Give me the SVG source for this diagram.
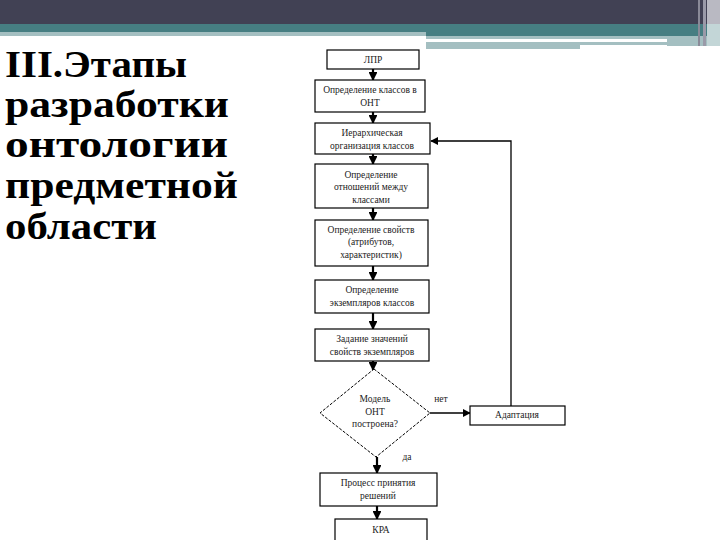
<svg xmlns="http://www.w3.org/2000/svg" width="720" height="540" viewBox="0 0 720 540">
<defs>
<marker id="ah" viewBox="0 0 10 10" refX="9" refY="5" markerWidth="4" markerHeight="4" markerUnits="strokeWidth" orient="auto">
<path d="M0,0 L10,5 L0,10 z" fill="#000"/>
</marker>
<marker id="ah2" viewBox="0 0 10 10" refX="9" refY="5" markerWidth="6" markerHeight="6" markerUnits="strokeWidth" orient="auto">
<path d="M0,0 L10,5 L0,10 z" fill="#000"/>
</marker>
<style>
.box{fill:#fff;stroke:#000;stroke-width:1.2}
.t{font-family:"Liberation Serif","Times New Roman",serif;font-size:9.5px;fill:#222;text-anchor:middle}
.title{font-family:"Liberation Serif","Times New Roman",serif;font-weight:bold;font-size:37px;fill:#000}
.c{stroke:#000;fill:none}
.thick{stroke-width:2.2}
</style>
</defs>
<rect width="720" height="540" fill="#fff"/>
<g id="header">
<rect x="0" y="0" width="720" height="24" fill="#414154"/>
<rect x="0" y="24" width="720" height="8" fill="#467e82"/>
<rect x="0" y="32" width="426" height="4" fill="#a4bfc1"/>
<rect x="426" y="32" width="294" height="4" fill="#467e82"/>
<rect x="426" y="36" width="294" height="3" fill="#a4bfc1"/>
<rect x="426" y="39" width="241" height="3" fill="#fff"/>
<rect x="426" y="42" width="154" height="7" fill="#a4bfc1"/>
<rect x="580" y="42" width="87" height="3" fill="#a4bfc1"/>
<rect x="667" y="39" width="40" height="7" fill="#a4bfc1"/>
<rect x="698" y="0" width="2" height="46" fill="#8a8a98"/>
<rect x="703" y="0" width="3" height="46" fill="#9a9aa8"/>
<rect x="707" y="0" width="13" height="24" fill="#b9b9c2"/>
<rect x="707" y="24" width="13" height="22" fill="#c3d6d7"/>
</g>
<g id="title">
<text class="title" x="5" y="77" textLength="182" lengthAdjust="spacingAndGlyphs">III.Этапы</text>
<text class="title" x="5" y="117" textLength="224" lengthAdjust="spacingAndGlyphs">разработки</text>
<text class="title" x="5" y="157" textLength="223" lengthAdjust="spacingAndGlyphs">онтологии</text>
<text class="title" x="5" y="198" textLength="233" lengthAdjust="spacingAndGlyphs">предметной</text>
<text class="title" x="5" y="239" textLength="152" lengthAdjust="spacingAndGlyphs">области</text>
</g>
<g id="connectors">
<line class="c thick" x1="373" y1="69" x2="373" y2="80" marker-end="url(#ah)"/>
<line class="c thick" x1="373" y1="112" x2="373" y2="123" marker-end="url(#ah)"/>
<line class="c thick" x1="373" y1="154" x2="373" y2="164" marker-end="url(#ah)"/>
<line class="c thick" x1="373" y1="208" x2="373" y2="220" marker-end="url(#ah)"/>
<line class="c thick" x1="373" y1="266" x2="373" y2="280" marker-end="url(#ah)"/>
<line class="c thick" x1="373" y1="313" x2="373" y2="329" marker-end="url(#ah)"/>
<line class="c thick" x1="373" y1="361" x2="373" y2="370" marker-end="url(#ah)"/>
<line class="c" stroke-width="1.3" x1="430" y1="413" x2="470" y2="413" marker-end="url(#ah2)"/>
<polyline class="c" stroke-width="1.3" points="511,406 511,141 431,141" marker-end="url(#ah2)"/>
<line class="c thick" x1="377" y1="457" x2="377" y2="473" marker-end="url(#ah)"/>
<line class="c thick" x1="377" y1="506" x2="377" y2="519" marker-end="url(#ah)"/>
</g>
<g id="n1"><rect class="box" x="327" y="50" width="92" height="19"/><text class="t" x="373" y="63">ЛПР</text></g>
<g id="n2"><rect class="box" x="315" y="80" width="110" height="32"/><text class="t" x="370" y="93">Определение классов в</text><text class="t" x="370" y="106">ОНТ</text></g>
<g id="n3"><rect class="box" x="315" y="123" width="115" height="31"/><text class="t" x="372" y="136">Иерархическая</text><text class="t" x="372" y="149">организация классов</text></g>
<g id="n4"><rect class="box" x="315" y="164" width="113" height="44"/><text class="t" x="371" y="178">Определение</text><text class="t" x="371" y="190">отношений между</text><text class="t" x="371" y="203">классами</text></g>
<g id="n5"><rect class="box" x="315" y="220" width="113" height="46"/><text class="t" x="371" y="233">Определение свойств</text><text class="t" x="371" y="245">(атрибутов,</text><text class="t" x="371" y="258">характеристик)</text></g>
<g id="n6"><rect class="box" x="315" y="280" width="114" height="33"/><text class="t" x="372" y="293">Определение</text><text class="t" x="372" y="306">экземпляров классов</text></g>
<g id="n7"><rect class="box" x="315" y="329" width="114" height="32"/><text class="t" x="372" y="342">Задание значений</text><text class="t" x="372" y="355">свойств экземпляров</text></g>
<g id="d1"><polygon points="374,369 430,413 376,457 320,413" fill="#fff" stroke="#000" stroke-width="1" stroke-dasharray="3 1.5"/><text class="t" x="375" y="402">Модель</text><text class="t" x="375" y="415">ОНТ</text><text class="t" x="375" y="427">построена?</text></g>
<g id="l1"><text class="t" x="441" y="402">нет</text><text class="t" x="407" y="460">да</text></g>
<g id="n8"><rect class="box" x="470" y="406" width="95" height="19"/><text class="t" x="517" y="418">Адаптация</text></g>
<g id="n9"><rect class="box" x="320" y="473" width="117" height="33"/><text class="t" x="378" y="486">Процесс принятия</text><text class="t" x="378" y="499">решений</text></g>
<g id="n10"><rect class="box" x="335" y="519" width="92" height="30"/><text class="t" x="381" y="533">КРА</text></g>
</svg>
